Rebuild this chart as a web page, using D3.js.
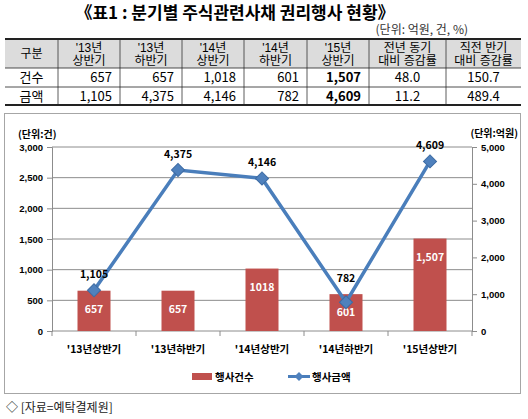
<!DOCTYPE html>
<html>
<head>
<meta charset="utf-8">
<script src="https://cdn.jsdelivr.net/npm/d3@7"></script>
<style>
  body { margin: 0; background: #fff; }
  svg { display: block; font-family: "Noto Sans CJK KR", "Noto Sans", sans-serif; }
  .tick text { font-weight: bold; font-size: 9.5px; fill: #000; }
  .head { font-family: "Liberation Sans", "Noto Sans CJK KR", sans-serif; }
</style>
</head>
<body>
<script>
// data
var categories = ["'13년상반기", "'13년하반기", "'14년상반기", "'14년하반기", "'15년상반기"];
var counts = [657, 657, 1018, 601, 1507];          // 행사건수 (bars, left axis)
var amounts = [1105, 4375, 4146, 782, 4609];       // 행사금액 (line, right axis)
var countLabels = ["657", "657", "1018", "601", "1,507"];

var tableHead = ["구분", "'13년\n상반기", "'13년\n하반기", "'14년\n상반기", "'14년\n하반기", "'15년\n상반기", "전년 동기\n대비 증감률", "직전 반기\n대비 증감률"];
var rowNames = ["건수", "금액"];
var countRow = ["657", "657", "1,018", "601", "1,507", "48.0", "150.7"];
var amountRow = ["1,105", "4,375", "4,146", "782", "4,609", "11.2", "489.4"];

var leftTicks = [0, 500, 1000, 1500, 2000, 2500, 3000];
var rightTicks = [0, 1000, 2000, 3000, 4000, 5000];

var W = 528, H = 419;
var svg = d3.select("body").append("svg")
    .attr("width", W)
    .attr("height", H);

// title
svg.append("text")
  .attr("x", 235).attr("y", 19)
  .attr("text-anchor", "middle")
  .style("font-size", "17px").style("font-weight", "bold")
  .text("《표1 : 분기별 주식관련사채 권리행사 현황》");

svg.append("text")
  .attr("x", 468).attr("y", 34)
  .attr("text-anchor", "end")
  .style("font-size", "12px").style("fill", "#333")
  .text("(단위: 억원, 건, %)");

// table
var colX = [5, 58, 120, 182, 244, 307, 369, 446, 521];
var rowY = [39, 68, 87, 105];
var table = svg.append("g").attr("class", "table");

table.append("rect")
  .attr("x", colX[0]).attr("y", rowY[0])
  .attr("width", colX[8] - colX[0]).attr("height", rowY[1] - rowY[0])
  .style("fill", "#dcdcdc");

// vertical lines
table.selectAll(".vline")
  .data(colX.slice(1, 8))
  .enter().append("line")
  .attr("x1", function(d) { return d; }).attr("x2", function(d) { return d; })
  .attr("y1", rowY[0]).attr("y2", rowY[3])
  .style("stroke", "#333").style("stroke-width", 0.8);

// horizontal lines
table.selectAll(".hline")
  .data(rowY)
  .enter().append("line")
  .attr("x1", colX[0]).attr("x2", colX[8])
  .attr("y1", function(d) { return d; }).attr("y2", function(d) { return d; })
  .style("stroke", "#222")
  .style("stroke-width", function(d, i) { return (i == 0 || i == 3) ? 2 : 0.8; });

// header text
tableHead.forEach(function(h, i) {
  var cx = (colX[i] + colX[i + 1]) / 2;
  var lines = h.split("\n");
  lines.forEach(function(l, j) {
    table.append("text")
      .attr("class", "head")
      .attr("x", cx)
      .attr("y", lines.length == 1 ? 58 : 51.5 + j * 13.5)
      .attr("text-anchor", "middle")
      .style("font-size", "12px")
      .text(l);
  });
});

// body rows
[countRow, amountRow].forEach(function(row, r) {
  var y = rowY[r + 1] + 14;
  table.append("text")
    .attr("x", (colX[0] + colX[1]) / 2).attr("y", y)
    .attr("text-anchor", "middle")
    .style("font-size", "13px")
    .text(rowNames[r]);
  row.forEach(function(v, i) {
    var c = i + 1;
    var center = c >= 6;
    table.append("text")
      .attr("x", center ? (colX[c] + colX[c + 1]) / 2 : colX[c + 1] - 8)
      .attr("y", y)
      .attr("text-anchor", center ? "middle" : "end")
      .style("font-size", "13px")
      .style("font-weight", c == 5 ? "bold" : "normal")
      .text(v);
  });
});

// chart frame
svg.append("rect")
  .attr("x", 4.5).attr("y", 113.5)
  .attr("width", 516).attr("height", 280)
  .style("fill", "none").style("stroke", "#a6a6a6");

var plot = {left: 52, right: 472, top: 147, bottom: 331};

var x = d3.scaleBand()
  .domain(categories)
  .range([plot.left, plot.right]);
var yL = d3.scaleLinear().domain([0, 3000]).range([plot.bottom, plot.top]);
var yR = d3.scaleLinear().domain([0, 5000]).range([plot.bottom, plot.top]);

// gridlines
svg.append("g")
  .selectAll("line")
  .data(leftTicks.slice(1))
  .enter().append("line")
  .attr("x1", plot.left).attr("x2", plot.right)
  .attr("y1", function(d) { return yL(d); }).attr("y2", function(d) { return yL(d); })
  .style("stroke", "#8c8c8c").style("stroke-width", 1);

// axes
var leftAxis = svg.append("g")
  .attr("transform", "translate(" + plot.left + ",0)")
  .call(d3.axisLeft(yL).tickValues(leftTicks).tickFormat(d3.format(",")).tickSize(5).tickPadding(4));
var rightAxis = svg.append("g")
  .attr("transform", "translate(" + plot.right + ",0)")
  .call(d3.axisRight(yR).tickValues(rightTicks).tickFormat(d3.format(",")).tickSize(5).tickPadding(4));
[leftAxis, rightAxis].forEach(function(a) {
  a.selectAll("path, line").style("stroke", "#8c8c8c");
});

// bottom axis with ticks at band edges
var bottom = svg.append("g");
bottom.append("line")
  .attr("x1", plot.left).attr("x2", plot.right)
  .attr("y1", plot.bottom).attr("y2", plot.bottom)
  .style("stroke", "#8c8c8c");
bottom.selectAll(".xt")
  .data(categories.concat([null]))
  .enter().append("line")
  .attr("x1", function(d, i) { return plot.left + i * x.step(); })
  .attr("x2", function(d, i) { return plot.left + i * x.step(); })
  .attr("y1", plot.bottom).attr("y2", plot.bottom + 5)
  .style("stroke", "#8c8c8c");
bottom.selectAll(".xl")
  .data(categories)
  .enter().append("text")
  .attr("x", function(d) { return x(d) + x.bandwidth() / 2; })
  .attr("y", 353)
  .attr("text-anchor", "middle")
  .style("font-size", "10.5px").style("font-weight", "bold")
  .text(function(d) { return d; });

// axis units
svg.append("text")
  .attr("x", 18).attr("y", 138)
  .style("font-size", "10px").style("font-weight", "bold")
  .text("(단위:건)");
svg.append("text")
  .attr("x", 518).attr("y", 137)
  .attr("text-anchor", "end")
  .style("font-size", "10px").style("font-weight", "bold")
  .text("(단위:억원)");

// bars
var barW = 33;
svg.selectAll(".bar")
  .data(counts)
  .enter().append("rect")
  .attr("class", "bar")
  .attr("x", function(d, i) { return x(categories[i]) + x.bandwidth() / 2 - barW / 2; })
  .attr("width", barW)
  .attr("y", function(d) { return yL(d); })
  .attr("height", function(d) { return plot.bottom - yL(d); })
  .style("fill", "#c0504d");

svg.selectAll(".barlabel")
  .data(counts)
  .enter().append("text")
  .attr("x", function(d, i) { return x(categories[i]) + x.bandwidth() / 2; })
  .attr("y", function(d) { return yL(d) + 22; })
  .attr("text-anchor", "middle")
  .style("font-size", "10.5px").style("font-weight", "bold").style("fill", "#fff")
  .text(function(d, i) { return countLabels[i]; });

// line
var line = d3.line()
  .x(function(d, i) { return x(categories[i]) + x.bandwidth() / 2; })
  .y(function(d) { return yR(d); });

svg.append("path")
  .datum(amounts)
  .attr("d", line)
  .style("fill", "none")
  .style("stroke", "#4a7ebb")
  .style("stroke-width", 3.5);

var diamond = d3.symbol().type(d3.symbolSquare).size(85);
svg.selectAll(".marker")
  .data(amounts)
  .enter().append("path")
  .attr("d", diamond)
  .attr("transform", function(d, i) {
    return "translate(" + (x(categories[i]) + x.bandwidth() / 2) + "," + yR(d) + ") rotate(45)";
  })
  .style("fill", "#4f81bd").style("stroke", "#3d6ba3").style("stroke-width", 1);

svg.selectAll(".linelabel")
  .data(amounts)
  .enter().append("text")
  .attr("x", function(d, i) { return x(categories[i]) + x.bandwidth() / 2; })
  .attr("y", function(d, i) { return yR(d) - (i == 3 ? 20 : 12); })
  .attr("text-anchor", "middle")
  .style("font-size", "10.5px").style("font-weight", "bold")
  .text(function(d) { return d3.format(",")(d); });

// legend
var legend = svg.append("g");
legend.append("rect")
  .attr("x", 192).attr("y", 373).attr("width", 20).attr("height", 7)
  .style("fill", "#c0504d");
legend.append("text")
  .attr("x", 215).attr("y", 381)
  .style("font-size", "10.5px").style("font-weight", "bold")
  .text("행사건수");
legend.append("line")
  .attr("x1", 288).attr("x2", 310).attr("y1", 376.5).attr("y2", 376.5)
  .style("stroke", "#4a7ebb").style("stroke-width", 3);
legend.append("path")
  .attr("d", d3.symbol().type(d3.symbolSquare).size(40))
  .attr("transform", "translate(299,376.5) rotate(45)")
  .style("fill", "#4f81bd");
legend.append("text")
  .attr("x", 312).attr("y", 381)
  .style("font-size", "10.5px").style("font-weight", "bold")
  .text("행사금액");

// source
svg.append("text")
  .attr("x", 6).attr("y", 412)
  .style("font-size", "12px").style("fill", "#222")
  .text("◇ [자료=예탁결제원]");
</script>
</body>
</html>
